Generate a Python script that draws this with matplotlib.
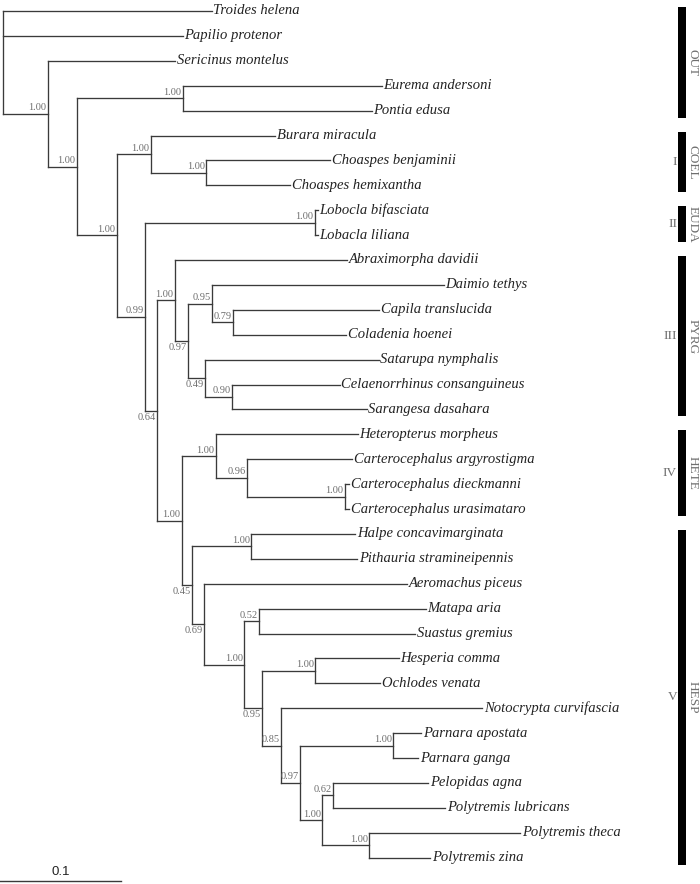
import matplotlib

matplotlib.use("Agg")
import matplotlib.pyplot as plt
from matplotlib.patches import Rectangle

# ---- tree: parallel edge lists (child, parent, branch length) ----------------
edge_child = [
    "Troides helena", "Papilio protenor", "n1",
    "Sericinus montelus", "n2",
    "n3", "Eurema andersoni", "Pontia edusa",
    "n4", "n5", "Burara miracula", "n7", "Choaspes benjaminii", "Choaspes hemixantha",
    "n6", "n8", "Lobocla bifasciata", "Lobacla liliana",
    "n9", "n10", "Abraximorpha davidii", "n11",
    "n12", "Daimio tethys", "n13", "Capila translucida", "Coladenia hoenei",
    "n14", "Satarupa nymphalis", "n15", "Celaenorrhinus consanguineus", "Sarangesa dasahara",
    "n16", "n17", "Heteropterus morpheus", "n18", "Carterocephalus argyrostigma",
    "n18b", "Carterocephalus dieckmanni", "Carterocephalus urasimataro",
    "n19", "n20", "Halpe concavimarginata", "Pithauria stramineipennis",
    "n21", "Aeromachus piceus", "n22", "n23", "Matapa aria", "Suastus gremius",
    "n24", "n25", "Hesperia comma", "Ochlodes venata",
    "n26", "Notocrypta curvifascia", "n27", "n28", "Parnara apostata", "Parnara ganga",
    "n29", "n30", "Pelopidas agna", "Polytremis lubricans",
    "n31", "Polytremis theca", "Polytremis zina",
]
edge_parent = [
    "n0", "n0", "n0",
    "n1", "n1",
    "n2", "n3", "n3",
    "n2", "n4", "n5", "n5", "n7", "n7",
    "n4", "n6", "n8", "n8",
    "n6", "n9", "n10", "n10",
    "n11", "n12", "n12", "n13", "n13",
    "n11", "n14", "n14", "n15", "n15",
    "n9", "n16", "n17", "n17", "n18",
    "n18", "n18b", "n18b",
    "n16", "n19", "n20", "n20",
    "n19", "n21", "n21", "n22", "n23", "n23",
    "n22", "n24", "n25", "n25",
    "n24", "n26", "n26", "n27", "n28", "n28",
    "n27", "n29", "n30", "n30",
    "n29", "n31", "n31",
]
edge_length = [
    0.1727, 0.1488, 0.0372,
    0.1050, 0.0240,
    0.0876, 0.1645, 0.1562,
    0.0331, 0.0281, 0.1025, 0.0455, 0.1025, 0.0694,
    0.0231, 0.1405, 0.0025, 0.0025,
    0.0099, 0.0149, 0.1421, 0.0107,
    0.0198, 0.1917, 0.0174, 0.1207, 0.0934,
    0.0140, 0.1438, 0.0223, 0.0893, 0.1116,
    0.0207, 0.0281, 0.1174, 0.0256, 0.0868,
    0.0810, 0.0033, 0.0033,
    0.0083, 0.0488, 0.0860, 0.0876,
    0.0099, 0.1678, 0.0331, 0.0124, 0.1380, 0.1289,
    0.0149, 0.0438, 0.0694, 0.0537,
    0.0157, 0.1661, 0.0157, 0.0769, 0.0231, 0.0207,
    0.0182, 0.0091, 0.0785, 0.0926,
    0.0388, 0.1248, 0.0504,
]

support_node = ["n1", "n2", "n3", "n4", "n5", "n7", "n6", "n8", "n9", "n10", "n11",
                "n12", "n13", "n14", "n15", "n16", "n17", "n18", "n18b", "n19", "n20",
                "n21", "n22", "n23", "n24", "n25", "n26", "n27", "n28", "n29", "n30", "n31"]
support_value = ["1.00", "1.00", "1.00", "1.00", "1.00", "1.00", "0.99", "1.00", "0.64",
                 "1.00", "0.97", "0.95", "0.79", "0.49", "0.90", "1.00", "1.00", "0.96",
                 "1.00", "0.45", "1.00", "0.69", "1.00", "0.52", "0.95", "1.00", "0.85",
                 "0.97", "1.00", "1.00", "0.62", "1.00"]
# labels drawn under the branch (short branches under a vertical line)
support_below = {"n9", "n11", "n14", "n19", "n21", "n24"}

group_name = ["OUT", "COEL", "EUDA", "PYRG", "HETE", "HESP"]
group_roman = ["", "I", "II", "III", "IV", "V"]
group_first = ["Troides helena", "Burara miracula", "Lobocla bifasciata",
               "Abraximorpha davidii", "Heteropterus morpheus", "Halpe concavimarginata"]
group_last = ["Pontia edusa", "Choaspes hemixantha", "Lobacla liliana",
              "Sarangesa dasahara", "Carterocephalus urasimataro", "Polytremis zina"]

SCALE = 0.1

# ---- layout ------------------------------------------------------------------
PX = 1210.0          # pixels per substitution unit
ROW = 24.9           # pixels per leaf row
TOP = 11.0           # y pixel of first leaf
LINE = "#3a3a3a"
GREY = "#6e6e6e"

children = {}
blen = {}
for c, p, l in zip(edge_child, edge_parent, edge_length):
    children.setdefault(p, []).append(c)
    blen[c] = l

xpos, ypos, leaves = {}, {}, []


def _layout(node, x):
    xpos[node] = x
    kids = children.get(node, [])
    if not kids:
        ypos[node] = len(leaves)
        leaves.append(node)
        return
    for k in kids:
        _layout(k, x + blen[k])
    ypos[node] = 0.5 * (ypos[kids[0]] + ypos[kids[-1]])


_layout("n0", 0.0)

fig = plt.figure(figsize=(7.0, 8.84), dpi=100)
ax = fig.add_axes([0, 0, 1, 1])
ax.set_xlim(-3 / PX, 697 / PX)
ax.set_ylim((884 - TOP) / ROW, -TOP / ROW)
ax.axis("off")

for node, kids in children.items():
    x = xpos[node]
    ax.plot([x, x], [ypos[kids[0]], ypos[kids[-1]]], color=LINE, lw=0.95,
            solid_capstyle="projecting")
    for k in kids:
        ax.plot([x, xpos[k]], [ypos[k], ypos[k]], color=LINE, lw=0.95,
                solid_capstyle="projecting")

for leaf in leaves:
    ax.text(xpos[leaf] + 1.5 / PX, ypos[leaf], leaf, fontsize=10.5, style="italic",
            family="Liberation Serif", color="#222222", va="center", ha="left")

for node, val in zip(support_node, support_value):
    if node in support_below:
        ax.text(xpos[node] - 1.5 / PX, ypos[node] + 2 / ROW, val, fontsize=7.5,
                family="Liberation Serif", color=GREY, ha="right", va="top")
    else:
        ax.text(xpos[node] - 1.5 / PX, ypos[node] - 1.5 / ROW, val, fontsize=7.5,
                family="Liberation Serif", color=GREY, ha="right", va="bottom")

# ---- clade bars --------------------------------------------------------------
bx0, bx1 = (678 - 3) / PX, (686 - 3) / PX
for name, rom, a, b in zip(group_name, group_roman, group_first, group_last):
    y0 = ypos[a] - 4 / ROW
    y1 = ypos[b] + 7 / ROW
    ax.add_patch(Rectangle((bx0, y0), bx1 - bx0, y1 - y0, color="black", lw=0))
    ym = 0.5 * (y0 + y1)
    ax.text(bx1 + 0.5 / PX, ym, name, rotation=270, fontsize=9.5,
            family="Liberation Serif", color=GREY, ha="left", va="center")
    if rom:
        ax.text(bx0 - 1 / PX, ym, rom, fontsize=9.5, family="Liberation Serif",
                color=GREY, ha="right", va="center")

# ---- scale bar ---------------------------------------------------------------
sy = (881 - TOP) / ROW
sx0 = -3 / PX
ax.plot([sx0, sx0 + SCALE], [sy, sy], color=LINE, lw=1.0)
ax.text(sx0 + SCALE / 2, sy - 3 / ROW, f"{SCALE:g}", fontsize=9.5,
        family="Liberation Sans", color="#222222", ha="center", va="bottom")

fig.savefig("out.png", dpi=100)
